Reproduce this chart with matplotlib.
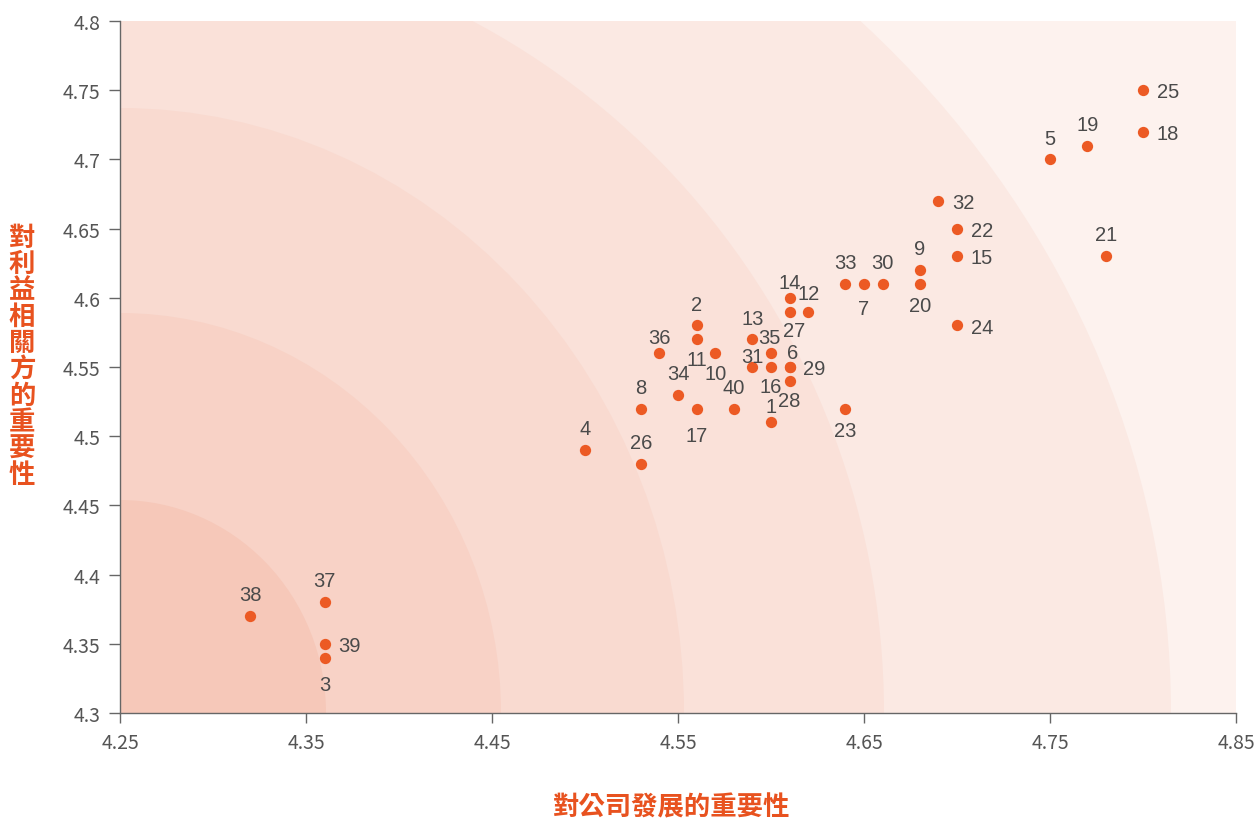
import matplotlib.pyplot as plt
from matplotlib.patches import Ellipse

# 議題編號與兩個維度的分數
names = [str(i) for i in range(1, 41)]
x_vals = [4.60, 4.56, 4.36, 4.50, 4.75, 4.61, 4.65, 4.53, 4.68, 4.57,
          4.56, 4.62, 4.59, 4.61, 4.70, 4.60, 4.56, 4.80, 4.77, 4.68,
          4.78, 4.70, 4.64, 4.70, 4.80, 4.53, 4.61, 4.61, 4.61, 4.66,
          4.59, 4.69, 4.64, 4.55, 4.60, 4.54, 4.36, 4.32, 4.36, 4.58]
y_vals = [4.51, 4.58, 4.34, 4.49, 4.70, 4.55, 4.61, 4.52, 4.62, 4.56,
          4.57, 4.59, 4.57, 4.60, 4.63, 4.55, 4.52, 4.72, 4.71, 4.61,
          4.63, 4.65, 4.52, 4.58, 4.75, 4.48, 4.59, 4.54, 4.55, 4.61,
          4.55, 4.67, 4.61, 4.53, 4.56, 4.56, 4.38, 4.37, 4.35, 4.52]

x_ticks = [4.25, 4.35, 4.45, 4.55, 4.65, 4.75, 4.85]
y_ticks = [4.3, 4.35, 4.4, 4.45, 4.5, 4.55, 4.6, 4.65, 4.7, 4.75, 4.8]

x_title = '對公司發展的重要性'
y_title = '對利益相關方的重要性'

# label placement: distance (px) of label centre above (+) or below (-)
# the dot; labels listed in right_labels sit to the right instead
label_shift = {'1': 18, '6': 16, '12': 20, '14': 17, '31': 12, '35': 17,
               '36': 17, '3': -25, '7': -23, '10': -19, '11': -18,
               '16': -18, '17': -25, '20': -20, '23': -20, '27': -17,
               '28': -18}
label_nudge_x = {'27': 5, '6': 3, '35': -2}
right_labels = {'15', '18', '22', '24', '25', '29', '32', '39'}

orange = '#ec5a24'
title_col = '#e8521f'
grey = '#666666'
PT = 0.72  # points per pixel at dpi 100
lab_size = 14.5
digit_h = 0.716 * lab_size / PT  # px

fig = plt.figure(figsize=(12.58, 8.20), dpi=100)
ax = fig.add_axes([120 / 1258, 106 / 820, 1116 / 1258, 692 / 820])
ax.set_xlim(4.25, 4.85)
ax.set_ylim(4.3, 4.8)
ax.set_facecolor('#fdf2ee')

# background bands, radii in pixels (x, y) around the lower-left corner
px_x = 1116 / 0.6
px_y = 692 / 0.5
bands = [((1051, 975), '#fbe9e3'),
         ((764, 780), '#fae1d9'),
         ((564, 605), '#f9dad0'),
         ((381, 400), '#f8d2c6'),
         ((206, 213), '#f6c8b9')]
for (rx, ry), col in bands:
    e = Ellipse((4.25, 4.3), 2 * rx / px_x, 2 * ry / px_y,
                facecolor=col, edgecolor='none', zorder=0)
    ax.add_patch(e)

ax.scatter(x_vals, y_vals, s=66, color=orange, zorder=3, linewidths=0)

for name, xv, yv in zip(names, x_vals, y_vals):
    if name in right_labels:
        off, ha = (13.7 * PT, -digit_h / 2 * PT), 'left'
    else:
        d = label_shift.get(name, 23)
        dx = label_nudge_x.get(name, 0)
        off, ha = (dx * PT, (d - digit_h / 2) * PT), 'center'
    ax.annotate(name, (xv, yv), xytext=off, textcoords='offset points',
                ha=ha, va='baseline', fontsize=lab_size, color='#4a4a4a',
                family=['Liberation Sans', 'DejaVu Sans'], zorder=4)

for side in ['top', 'right']:
    ax.spines[side].set_visible(False)
for side in ['left', 'bottom']:
    ax.spines[side].set_color(grey)
    ax.spines[side].set_linewidth(1)

ax.set_xticks(x_ticks)
ax.set_yticks(y_ticks)
ax.set_xticklabels([f'{t:g}' for t in x_ticks])
ax.set_yticklabels([f'{t:g}' for t in y_ticks])
ax.tick_params(axis='x', length=7, width=1, color=grey, pad=7,
               labelsize=14, labelcolor='#555555')
ax.tick_params(axis='y', length=8, width=1, color=grey, pad=6,
               labelsize=14, labelcolor='#555555')
for lab in ax.get_xticklabels() + ax.get_yticklabels():
    lab.set_family(['Noto Sans CJK TC', 'DejaVu Sans'])

fig.text(672 / 1258, 1 - 808 / 820, x_title, ha='center', va='center',
         fontsize=19, fontweight='bold', color=title_col,
         family=['Noto Sans CJK TC', 'DejaVu Sans'])
fig.text(22 / 1258, 1 - 357 / 820, '\n'.join(y_title), ha='center',
         va='center', fontsize=19, fontweight='bold', color=title_col,
         linespacing=0.97, family=['Noto Sans CJK TC', 'DejaVu Sans'])

fig.savefig('out.png', dpi=100)
